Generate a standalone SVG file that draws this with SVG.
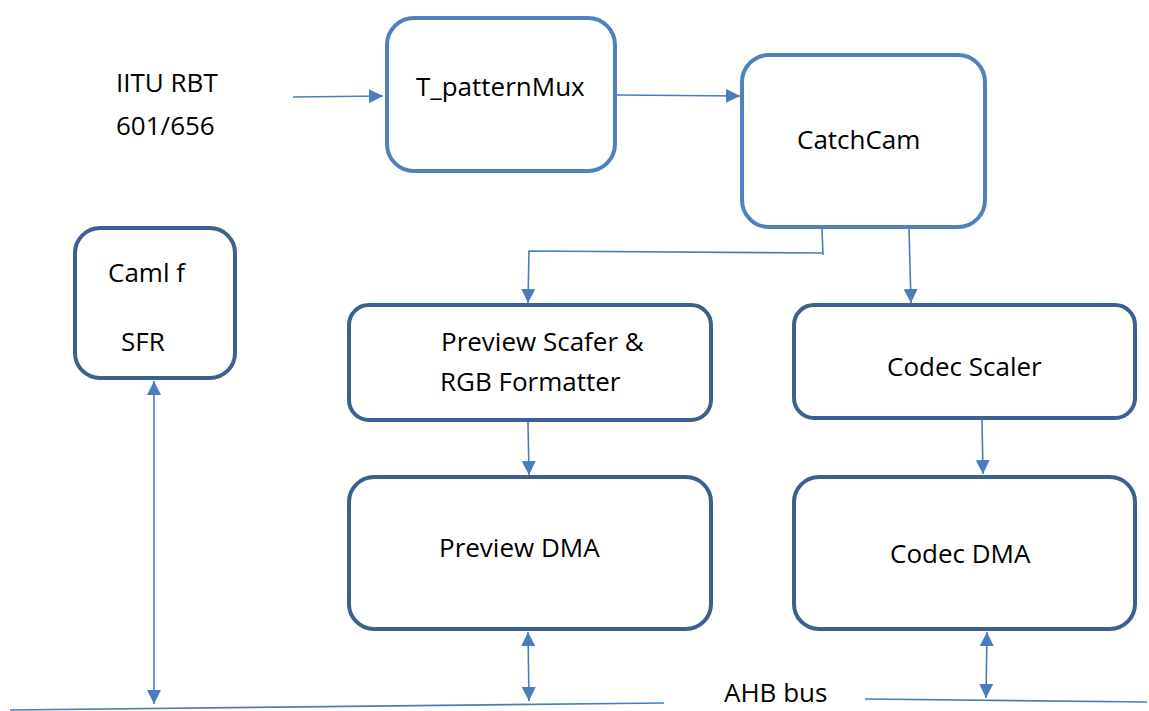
<svg xmlns="http://www.w3.org/2000/svg" width="1149" height="711" viewBox="0 0 1149 711">
<style>
.lb{fill:#fff;stroke:#4f81bd;stroke-width:4}
.db{fill:#fff;stroke:#3c6090;stroke-width:4}
.c{stroke:#4a7ebb;stroke-width:1.6;fill:none}
text{font-family:"Open Sans","Liberation Sans",Arial,sans-serif;font-size:26px;fill:#000}
</style>
<defs>
<marker id="ah2" viewBox="0 0 10 10" refX="10" refY="5" markerWidth="14" markerHeight="14" markerUnits="userSpaceOnUse" orient="auto-start-reverse"><path d="M0,0 L10,5 L0,10 z" fill="#4a7ebb"/></marker>
</defs>
<text x="116" y="92">IITU RBT</text>
<text x="116" y="135">601/656</text>
<text x="724" y="702">AHB bus</text>
<g id="tpm"><rect class="lb" x="387" y="18" width="228" height="153" rx="27"/><text x="416" y="96">T_patternMux</text></g>
<g id="catchcam"><rect class="lb" x="742" y="55" width="243" height="172" rx="27"/><text x="797" y="149">CatchCam</text></g>
<g id="camlf"><rect class="db" x="75" y="228" width="160" height="150" rx="25"/><text x="108" y="282">Caml f</text><text x="121" y="351">SFR</text></g>
<g id="pscaler"><rect class="db" x="349" y="305" width="362" height="115" rx="20"/><text x="441" y="351">Preview Scafer &amp;</text><text x="440" y="391">RGB Formatter</text></g>
<g id="cscaler"><rect class="db" x="794" y="305" width="341" height="113" rx="20"/><text x="887" y="376">Codec Scaler</text></g>
<g id="pdma"><rect class="db" x="349" y="477" width="362" height="152" rx="25"/><text x="439" y="557">Preview DMA</text></g>
<g id="cdma"><rect class="db" x="794" y="477" width="341" height="152" rx="25"/><text x="890" y="563">Codec DMA</text></g>
<g id="connectors">
<path class="c" d="M293,97 L383,96" marker-end="url(#ah2)"/>
<path class="c" d="M617,95 L740,96" marker-end="url(#ah2)"/>
<path class="c" d="M822,229 L823,255"/>
<path class="c" d="M823,253 L529,251 L528,303" marker-end="url(#ah2)"/>
<path class="c" d="M909,229 L911,303" marker-end="url(#ah2)"/>
<path class="c" d="M528,422 L529,475" marker-end="url(#ah2)"/>
<path class="c" d="M982,420 L983,474" marker-end="url(#ah2)"/>
<path class="c" d="M154,381 L154,704" marker-start="url(#ah2)" marker-end="url(#ah2)"/>
<path class="c" d="M528,632 L529,701" marker-start="url(#ah2)" marker-end="url(#ah2)"/>
<path class="c" d="M987,632 L986,698" marker-start="url(#ah2)" marker-end="url(#ah2)"/>
<path class="c" d="M10,710 L664,703"/>
<path class="c" d="M865,699 L1147,702"/>
</g>
</svg>
